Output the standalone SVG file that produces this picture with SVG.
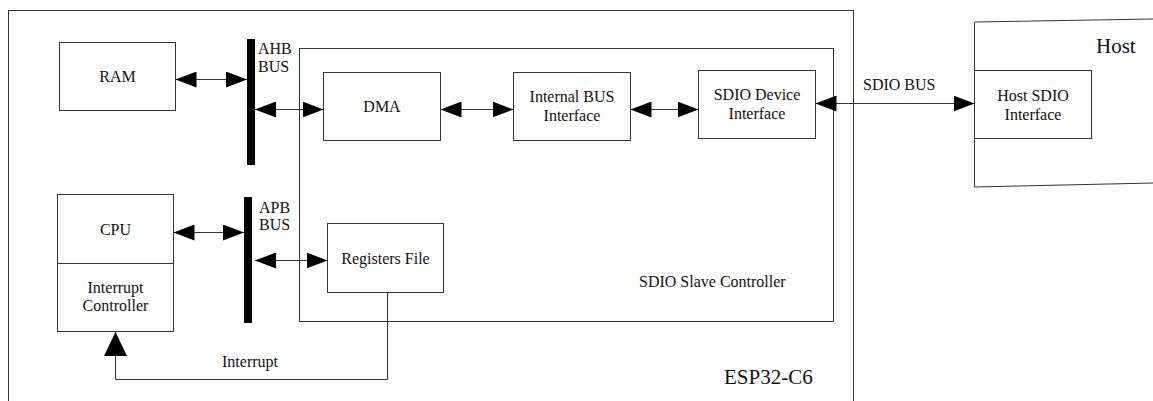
<svg xmlns="http://www.w3.org/2000/svg" width="1153" height="401" viewBox="0 0 1153 401">
<defs>
<style>
.box{fill:#fff;stroke:#333;stroke-width:1}
.frame{fill:none;stroke:#333;stroke-width:1}
.bar{fill:#000}
.t{font-family:"Liberation Serif","Times New Roman",serif;font-size:16px;fill:#111}
.c{text-anchor:middle}
.big{font-size:21px}
.conn{fill:none;stroke:#333;stroke-width:1}
</style>
<marker id="ah" markerUnits="userSpaceOnUse" markerWidth="22" markerHeight="16" refX="21" refY="8" orient="auto-start-reverse" viewBox="0 0 22 16">
<path d="M0,0 L21,8 L0,16 Z" fill="#000"/>
</marker>
<marker id="ahBig" markerUnits="userSpaceOnUse" markerWidth="26" markerHeight="24" refX="24" refY="11.5" orient="auto" viewBox="0 0 26 24">
<path d="M0,0 L24,11.5 L0,23 Z" fill="#000"/>
</marker>
</defs>
<rect width="1153" height="401" fill="#fff"/>

<g id="esp32-c6">
<rect class="frame" x="8.5" y="10.5" width="845" height="400"/>
<text class="t big" x="724" y="384">ESP32-C6</text>
</g>

<g id="sdio-slave-controller">
<rect class="frame" x="299.5" y="48.5" width="534" height="273"/>
<text class="t" x="639" y="287">SDIO Slave Controller</text>
</g>

<g id="host">
<path class="frame" d="M1153,19 L974.5,22 L974.5,187 L1153,183"/>
<text class="t big" x="1096" y="53">Host</text>
</g>

<g id="ram">
<rect class="box" x="59.5" y="42.5" width="116" height="68"/>
<text class="t c" x="117.5" y="82">RAM</text>
</g>

<g id="ahb-bus">
<rect class="bar" x="247" y="39" width="8" height="126"/>
<text class="t" x="258" y="54">AHB</text>
<text class="t" x="258" y="72">BUS</text>
</g>

<g id="apb-bus">
<rect class="bar" x="244" y="197" width="8" height="126"/>
<text class="t" x="259" y="213">APB</text>
<text class="t" x="259" y="230">BUS</text>
</g>

<g id="dma">
<rect class="box" x="323.5" y="72.5" width="117" height="68"/>
<text class="t c" x="382" y="112">DMA</text>
</g>

<g id="internal-bus-interface">
<rect class="box" x="513.5" y="72.5" width="117" height="68"/>
<text class="t c" x="572" y="102">Internal BUS</text>
<text class="t c" x="572" y="121">Interface</text>
</g>

<g id="sdio-device-interface">
<rect class="box" x="698.5" y="70.5" width="117" height="68"/>
<text class="t c" x="757" y="100">SDIO Device</text>
<text class="t c" x="757" y="119">Interface</text>
</g>

<g id="host-sdio-interface">
<rect class="box" x="974.5" y="70.5" width="117" height="68"/>
<text class="t c" x="1033" y="101">Host SDIO</text>
<text class="t c" x="1033" y="120">Interface</text>
</g>

<g id="cpu">
<rect class="box" x="57.5" y="194.5" width="116" height="137"/>
<line class="frame" x1="57.5" y1="263.5" x2="173.5" y2="263.5"/>
<text class="t c" x="115.5" y="235">CPU</text>
<text class="t c" x="115.5" y="293">Interrupt</text>
<text class="t c" x="115.5" y="311">Controller</text>
</g>

<g id="registers-file">
<rect class="box" x="327.5" y="223.5" width="116" height="69"/>
<text class="t c" x="385.5" y="264">Registers File</text>
</g>

<g id="connectors">
<line class="conn" x1="175.5" y1="79.5" x2="247" y2="79.5" marker-start="url(#ah)" marker-end="url(#ah)"/>
<line class="conn" x1="255" y1="109.5" x2="323.5" y2="109.5" marker-start="url(#ah)" marker-end="url(#ah)"/>
<line class="conn" x1="440.5" y1="109.5" x2="513.5" y2="109.5" marker-start="url(#ah)" marker-end="url(#ah)"/>
<line class="conn" x1="630.5" y1="109.5" x2="698.5" y2="109.5" marker-start="url(#ah)" marker-end="url(#ah)"/>
<line class="conn" x1="815.5" y1="103.5" x2="974.5" y2="103.5" marker-start="url(#ah)" marker-end="url(#ah)"/>
<text class="t" x="863" y="90">SDIO BUS</text>
<line class="conn" x1="173.5" y1="232.5" x2="244" y2="232.5" marker-start="url(#ah)" marker-end="url(#ah)"/>
<line class="conn" x1="255" y1="260.5" x2="327.5" y2="260.5" marker-start="url(#ah)" marker-end="url(#ah)"/>
<path class="conn" d="M387.5,292.5 L387.5,379.5 L115.5,379.5 L115.5,332" marker-end="url(#ahBig)"/>
<text class="t" x="222" y="367">Interrupt</text>
</g>
</svg>
